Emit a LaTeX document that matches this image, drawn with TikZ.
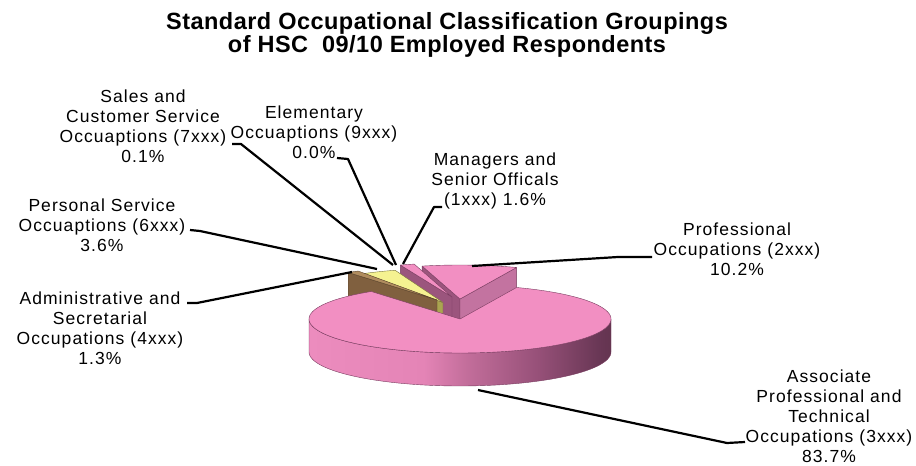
\documentclass[tikz,border=0pt]{standalone}
\usepackage{fontspec}
\setmainfont{Liberation Sans}
\newfontfamily\lblfont[LetterSpace=6]{Liberation Sans}
\newfontfamily\ttlfont[LetterSpace=2]{Liberation Sans}
\usetikzlibrary{calc}
\definecolor{pinktop}{RGB}{242,143,194}
\definecolor{mauveL}{RGB}{155,85,125}
\definecolor{mauveR}{RGB}{195,115,160}
\definecolor{edgec}{RGB}{120,60,95}
\definecolor{ylw}{RGB}{245,242,145}
\definecolor{olive}{RGB}{170,165,80}
\definecolor{brownF}{RGB}{128,96,63}
\definecolor{brownT}{RGB}{176,140,95}
\definecolor{sA}{RGB}{236,140,190}
\definecolor{sB}{RGB}{228,132,182}
\definecolor{sC}{RGB}{195,110,155}
\definecolor{sD}{RGB}{150,80,120}
\definecolor{sE}{RGB}{105,55,85}
\definecolor{sF}{RGB}{100,52,80}
\pgfdeclarehorizontalshading{sideshade}{100bp}{color(0bp)=(sA); color(25bp)=(sA); color(44bp)=(sB); color(51bp)=(sC); color(63bp)=(sD); color(73bp)=(sE); color(75bp)=(sF); color(100bp)=(sF)}
\begin{document}
\begin{tikzpicture}[x=1pt,y=-1pt,
  lbl/.style={font=\lblfont\fontsize{17.5}{20}\selectfont, align=center, inner sep=0pt},
  ttl/.style={font=\ttlfont\bfseries\fontsize{23.5}{21}\selectfont, align=center, inner sep=0pt},
  leader/.style={draw=black, line width=2.2pt, line join=round},
  face/.style={draw=edgec, line width=0.4pt, line join=round}]
\useasboundingbox (0,0) rectangle (916,466);

% title
\node[ttl] (title) at (447,34.7) {Standard Occupational Classification Groupings\\of HSC\ \ 09/10 Employed Respondents};

% ---- Professional slice (exploded) ----
\coordinate (Q) at (460,299);
\coordinate (Qa) at ({460+151*cos(68)},{299-34*sin(68)});
\coordinate (Qb) at ({460+151*cos(104.5)},{299-34*sin(104.5)});
\filldraw[face, fill=mauveL] (Q) -- (Qb) -- ($(Qb)+(0,33)$) -- ($(Q)+(0,33)$) -- cycle;
\filldraw[face, fill=mauveR] (Q) -- (Qa) -- ($(Qa)+(0,33)$) -- ($(Q)+(0,33)$) -- cycle;
\filldraw[face, fill=pinktop] (Q) -- (Qa) -- plot[domain=68:104.5,samples=20] ({460+151*cos(\x)},{299-34*sin(\x)}) -- cycle;

% ---- Managers slice ----
\coordinate (M) at (452,297);
\coordinate (Ma) at ({452+151*cos(104.5)},{297-34*sin(104.5)});
\coordinate (Mb) at ({452+151*cos(110)},{297-34*sin(110)});
\filldraw[face, fill=mauveL] (M) -- (Mb) -- ($(Mb)+(0,33)$) -- ($(M)+(0,33)$) -- cycle;
\filldraw[face, fill=pinktop] (M) -- (Ma) -- plot[domain=104.5:110,samples=6] ({452+151*cos(\x)},{297-34*sin(\x)}) -- cycle;

% ---- Personal Service slice ----
\coordinate (P) at (443,302.5);
\coordinate (Pa) at ({443+151*cos(108.5)},{302.5-34*sin(108.5)});
\coordinate (Pb) at ({443+151*cos(121.5)},{302.5-34*sin(121.5)});
\filldraw[face, fill=olive] (P) -- (Pb) -- ($(Pb)+(0,33)$) -- ($(P)+(0,33)$) -- cycle;
\filldraw[face, draw=olive!70!black, fill=ylw] (P) -- (Pa) -- plot[domain=108.5:121.5,samples=10] ({443+151*cos(\x)},{302.5-34*sin(\x)}) -- cycle;

% ---- Administrative slice ----
\coordinate (A) at (437,300);
\coordinate (Aa) at ({437+151*cos(121.5)},{300-34*sin(121.5)});
\coordinate (Ab) at ({437+151*cos(126)},{300-34*sin(126)});
\filldraw[face, draw=brownF!70!black, fill=brownF] (A) -- (Ab) -- ($(Ab)+(0,33)$) -- ($(A)+(0,33)$) -- cycle;
\filldraw[face, draw=brownF!70!black, fill=brownT] (A) -- (Aa) -- plot[domain=121.5:126,samples=5] ({437+151*cos(\x)},{300-34*sin(\x)}) -- cycle;

% ---- Main slice (Associate Professional) ----
\coordinate (C) at (460,319);
\path[shading=sideshade, draw=edgec, line width=0.4pt]
  plot[domain=180:360,samples=90] ({460+151*cos(\x)},{319-34*sin(\x)})
  -- plot[domain=360:180,samples=90] ({460+151*cos(\x)},{352-34*sin(\x)}) -- cycle;
\filldraw[face, fill=pinktop] (C) -- plot[domain=126:428,samples=160] ({460+151*cos(\x)},{319-34*sin(\x)}) -- cycle;

% ---- labels ----
\node[lbl] (sales) at (143,126) {Sales and\\Customer Service\\Occuaptions (7xxx)\\0.1\%};
\node[lbl] (elem) at (314,132) {Elementary\\Occuaptions (9xxx)\\0.0\%};
\node[lbl] (mgr) at (495,181) {Managers and\\Senior Officals\\(1xxx) 1.6\%};
\node[lbl] (pers) at (102,225) {Personal Service\\Occuaptions (6xxx)\\3.6\%};
\node[lbl] (admin) at (100,328) {Administrative and\\Secretarial\\Occupations (4xxx)\\1.3\%};
\node[lbl] (prof) at (737,249) {Professional\\Occupations (2xxx)\\10.2\%};
\node[lbl] (assoc) at (829,416) {Associate\\Professional and\\Technical\\Occupations (3xxx)\\83.7\%};

% ---- leader lines ----
\coordinate (salesS) at (232,144);
\coordinate (salesK) at (241,144);
\coordinate (salesE) at (393,265);
\coordinate (elemS) at (337,158);
\coordinate (elemK) at (348,159);
\coordinate (elemE) at (396,265);
\coordinate (mgrS) at (442,207);
\coordinate (mgrK) at (434,207);
\coordinate (mgrE) at (403,264);
\coordinate (persS) at (190,230);
\coordinate (persK) at (200,231);
\coordinate (persE) at (377,269);
\coordinate (adminS) at (187,303);
\coordinate (adminK) at (197,303);
\coordinate (adminE) at (352,272);
\coordinate (profS) at (652,257);
\coordinate (profK) at (618,257);
\coordinate (profE) at (472,266);
\coordinate (assocS) at (745,442);
\coordinate (assocK) at (727,443);
\coordinate (assocE) at (478,390);
\draw[leader] (salesS) -- (salesK) -- (salesE);
\draw[leader] (elemS) -- (elemK) -- (elemE);
\draw[leader] (mgrS) -- (mgrK) -- (mgrE);
\draw[leader] (persS) -- (persK) -- (persE);
\draw[leader] (adminS) -- (adminK) -- (adminE);
\draw[leader] (profS) -- (profK) -- (profE);
\draw[leader] (assocS) -- (assocK) -- (assocE);
\end{tikzpicture}
\end{document}
